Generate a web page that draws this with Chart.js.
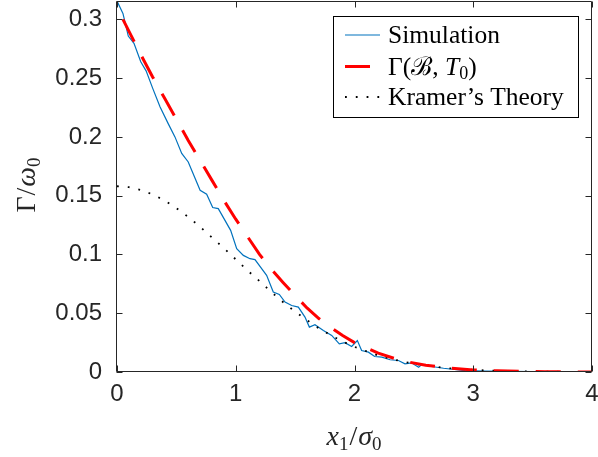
<!DOCTYPE html>
<html>
<head>
<meta charset="utf-8">
<script src="https://cdn.jsdelivr.net/npm/chart.js@4/dist/chart.umd.min.js"></script>
<style>
    html, body { margin: 0; padding: 0; background: #fff; }
</style>
</head>
<body>
<canvas id="rateChart" width="598" height="457"></canvas>
<script>

// x1 / sigma0 positions and Gamma / omega0 values
const simX = [0, 0.05, 0.095, 0.143, 0.2, 0.245, 0.3, 0.362, 0.43, 0.488, 0.545, 0.6, 0.629, 0.7, 0.755, 0.806, 0.853, 0.957, 1.008, 1.064, 1.12, 1.162, 1.26, 1.316, 1.367, 1.415, 1.471, 1.527, 1.583, 1.62, 1.667, 1.738, 1.808, 1.872, 1.92, 1.976, 2.024, 2.06, 2.117, 2.17, 2.23, 2.3, 2.37, 2.425, 2.48, 2.54, 2.566, 2.65, 2.75, 2.86, 2.93, 3.1, 3.3, 3.5, 3.7, 4.0];
const simY = [0.3156, 0.305, 0.2858, 0.2796, 0.2639, 0.2562, 0.2415, 0.2256, 0.2115, 0.200, 0.1859, 0.1787, 0.1716, 0.1546, 0.1512, 0.1399, 0.139, 0.1205, 0.105, 0.0992, 0.0964, 0.0956, 0.0822, 0.068, 0.066, 0.0595, 0.0566, 0.0552, 0.0467, 0.0382, 0.0402, 0.0353, 0.0311, 0.024, 0.0249, 0.0217, 0.0268, 0.0183, 0.0169, 0.0132, 0.0126, 0.0104, 0.0098, 0.007, 0.0078, 0.0041, 0.0064, 0.0047, 0.0032, 0.0019, 0.0012, 0.0008, 0.0005, 0.0003, 0.0002, 0.0001];

const gammaX = [0.05, 0.1, 0.2, 0.3, 0.4, 0.5, 0.6, 0.7, 0.8, 0.9, 1.0, 1.1, 1.2, 1.3, 1.4, 1.5, 1.6, 1.7, 1.8, 1.9, 2.0, 2.2, 2.4, 2.6, 2.8, 3.0, 3.2, 3.4, 3.6, 3.8, 4.0];
const gammaY = [0.300, 0.290, 0.270, 0.251, 0.233, 0.215, 0.197, 0.180, 0.163, 0.146, 0.130, 0.115, 0.100, 0.0875, 0.076, 0.065, 0.0545, 0.0455, 0.038, 0.031, 0.025, 0.016, 0.0095, 0.0058, 0.0033, 0.0018, 0.0010, 0.0005, 0.0003, 0.0001, 0.0001];

const kramerX = [0, 0.1, 0.2, 0.3, 0.4, 0.5, 0.6, 0.7, 0.8, 0.9, 1.0, 1.1, 1.2, 1.3, 1.4, 1.5, 1.6, 1.7, 1.8, 1.9, 2.0, 2.2, 2.4, 2.6, 2.8, 3.0, 3.2, 3.4, 3.6, 3.8, 4.0];
const kramerY = [0.158, 0.1572, 0.1549, 0.1511, 0.1459, 0.1394, 0.1319, 0.1235, 0.1144, 0.1054, 0.0958, 0.0863, 0.0773, 0.0680, 0.0593, 0.0513, 0.0440, 0.0372, 0.0313, 0.0260, 0.0214, 0.0140, 0.0089, 0.0054, 0.0031, 0.0018, 0.0010, 0.0005, 0.0003, 0.0001, 0.0001];

const xTicks = [0, 1, 2, 3, 4];
const yTicks = [0, 0.05, 0.1, 0.15, 0.2, 0.25, 0.3];

const AXIS = "#262626";
const SANS = '"Liberation Sans", Arial, sans-serif';
const SERIF = '"Liberation Serif", "DejaVu Serif", serif';

const points = (xs, ys) => xs.map((x, i) => ({ x, y: ys[i] }));

/*
    text made of pieces (italic letters, subscripts)
*/
function drawRuns(ctx, runs, x, y, align) {
    let total = 0;
    runs.forEach(r => {
        ctx.font = r.font;
        r.w = ctx.measureText(r.t).width;
        total += r.w + (r.kern || 0);
    });
    let cx = align === "center" ? x - total / 2 : x;
    runs.forEach(r => {
        ctx.font = r.font;
        ctx.fillText(r.t, cx, y + (r.dy || 0));
        cx += r.w + (r.kern || 0);
    });
}

const frameAndLegend = {
    id: "frameAndLegend",
    afterDraw(chart) {
        const { ctx, chartArea: a, scales } = chart;
        const L = Math.round(a.left) - 0.5, R = Math.round(a.right) - 0.5;
        const T = Math.round(a.top) + 0.5, B = Math.round(a.bottom) - 0.5;

        ctx.save();
        ctx.strokeStyle = AXIS;
        ctx.lineWidth = 1;
        ctx.beginPath();
        ctx.rect(L, T, R - L, B - T);
        xTicks.forEach(v => {
            const px = Math.round(scales.x.getPixelForValue(v)) + 0.5;
            ctx.moveTo(px, B); ctx.lineTo(px, B - 6);
            ctx.moveTo(px, T); ctx.lineTo(px, T + 6);
        });
        yTicks.forEach(v => {
            const py = Math.round(scales.y.getPixelForValue(v)) + 0.5;
            ctx.moveTo(L, py); ctx.lineTo(L + 6, py);
            ctx.moveTo(R, py); ctx.lineTo(R - 6, py);
        });
        ctx.stroke();

        // axis titles
        ctx.fillStyle = AXIS;
        ctx.textBaseline = "alphabetic";
        drawRuns(ctx, [
            { t: "x", font: `italic 28px ${SERIF}` },
            { t: "1", font: `19px ${SERIF}`, dy: 5, kern: 1 },
            { t: "/", font: `28px ${SERIF}`, kern: 1 },
            { t: "σ", font: `italic 28px ${SERIF}` },
            { t: "0", font: `19px ${SERIF}`, dy: 5 }
        ], 354, 445, "center");

        ctx.save();
        ctx.translate(35, 185);
        ctx.rotate(-Math.PI / 2);
        drawRuns(ctx, [
            { t: "Γ", font: `28px ${SERIF}`, kern: 1 },
            { t: "/", font: `28px ${SERIF}`, kern: 1 },
            { t: "ω", font: `italic 28px ${SERIF}` },
            { t: "0", font: `19px ${SERIF}`, dy: 5 }
        ], 0, 0, "center");
        ctx.restore();

        // legend
        ctx.fillStyle = "#fff";
        ctx.fillRect(333.5, 16.5, 245, 101);
        ctx.strokeStyle = "#000";
        ctx.strokeRect(333.5, 16.5, 245, 101);

        const rows = chart.data.datasets;
        const rowY = [35, 66.5, 97];
        const labels = [
            [{ t: "Simulation", font: `25.5px ${SERIF}` }],
            [
                { t: "Γ(", font: `25.5px ${SERIF}` },
                { t: "ℬ", font: `25.5px ${SERIF}` },
                { t: ", ", font: `25.5px ${SERIF}` },
                { t: "T", font: `italic 25.5px ${SERIF}` },
                { t: "0", font: `18px ${SERIF}`, dy: 4 },
                { t: ")", font: `25.5px ${SERIF}` }
            ],
            [{ t: "Kramer’s Theory", font: `25.5px ${SERIF}` }]
        ];
        const legendOrder = ["Simulation", "Gamma", "Kramer"];
        legendOrder.forEach((name, i) => {
            const ds = rows.find(d => d.label === name);
            ctx.save();
            ctx.strokeStyle = ds.borderColor;
            ctx.lineWidth = ds.borderWidth;
            ctx.setLineDash(ds.borderDash || []);
            ctx.beginPath();
            ctx.moveTo(345, rowY[i]);
            ctx.lineTo(380, rowY[i]);
            ctx.stroke();
            ctx.restore();
            ctx.fillStyle = "#000";
            drawRuns(ctx, labels[i], 388, rowY[i] + 8, "left");
        });

        ctx.restore();
    }
};

new Chart(document.getElementById("rateChart"), {
    type: "line",
    data: {
        datasets: [
            {
                label: "Gamma",
                data: points(gammaX, gammaY),
                borderColor: "#ff0000",
                borderWidth: 3,
                borderDash: [25, 17],
                pointRadius: 0
            },
            {
                label: "Kramer",
                data: points(kramerX, kramerY),
                borderColor: "#000000",
                borderWidth: 1.8,
                borderDash: [1.8, 9],
                pointRadius: 0
            },
            {
                label: "Simulation",
                data: points(simX, simY),
                borderColor: "#0072bd",
                borderWidth: 1.2,
                pointRadius: 0
            }
        ]
    },
    options: {
        responsive: false,
        animation: false,
        layout: { padding: { top: 1, right: 6, left: 0, bottom: 0 } },
        plugins: {
            legend: { display: false },
            tooltip: { enabled: false }
        },
        elements: { line: { tension: 0 } },
        scales: {
            x: {
                type: "linear",
                min: 0,
                max: 4,
                afterBuildTicks: s => { s.ticks = xTicks.map(v => ({ value: v })); },
                afterFit: s => {
                    s.height = 85;
                    s.paddingLeft = 0;
                    s.paddingRight = 0;
                },
                grid: { display: false, drawTicks: false },
                border: { display: false },
                ticks: {
                    color: AXIS,
                    padding: 8,
                    font: { family: SANS, size: 24 },
                    callback: v => String(v)
                }
            },
            y: {
                type: "linear",
                min: 0,
                max: 0.3156,
                afterBuildTicks: s => { s.ticks = yTicks.map(v => ({ value: v })); },
                afterFit: s => {
                    s.width = 117;
                    s.paddingTop = 0;
                    s.paddingBottom = 0;
                },
                grid: { display: false, drawTicks: false },
                border: { display: false },
                ticks: {
                    color: AXIS,
                    padding: 15,
                    font: { family: SANS, size: 24 },
                    callback: v => String(+v.toFixed(2))
                }
            }
        }
    },
    plugins: [frameAndLegend]
});
</script>
</body>
</html>
